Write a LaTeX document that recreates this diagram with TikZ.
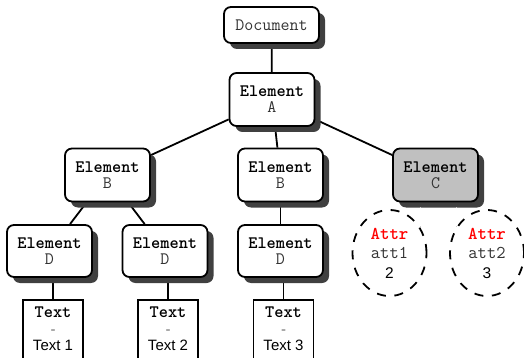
\documentclass[tikz,border=0pt]{standalone}
\usepackage{fontspec}
\setsansfont{Liberation Sans}
\usetikzlibrary{shadows,shapes.geometric,backgrounds}
\definecolor{shadowgray}{HTML}{404040}
\definecolor{cfill}{HTML}{C0C0C0}
\definecolor{labgray}{HTML}{333333}
\definecolor{attrred}{HTML}{FF0000}
\definecolor{dashgray}{HTML}{707070}
\newcommand{\elname}{\textbf{Element}}
\tikzset{
  boxshadow/.style={drop shadow={shadow xshift=6pt, shadow yshift=-6pt, fill=shadowgray, opacity=1}},
  elem/.style={draw=black, line width=1.8pt, rounded corners=7pt, fill=white,
    minimum width=85pt, minimum height=53pt, inner sep=0pt, align=center,
    font=\fontsize{17.5}{16}\selectfont\ttfamily, boxshadow},
  docbox/.style={elem, minimum width=95pt, minimum height=36pt},
  grayelem/.style={elem, fill=cfill},
  txtbox/.style={draw=black, line width=1.8pt, fill=white, anchor=north,
    minimum width=60pt, inner xsep=0pt, inner ysep=7pt, align=center,
    font=\fontsize{15}{16.5}\selectfont\sffamily},
  attrnode/.style={ellipse, draw=black, line width=1.8pt, dash pattern=on 9pt off 8.6pt,
    fill=white, minimum width=74pt, minimum height=86pt, inner sep=0pt, align=center,
    font=\fontsize{15.5}{19.5}\selectfont\sffamily},
  conn/.style={draw=black, line width=1.8pt},
  faint/.style={draw=gray!40, line width=0.4pt, dash pattern=on 1pt off 18pt},
}
\newcommand{\lab}[1]{{\color{labgray}#1}}
\newcommand{\txtcontent}[1]{{\fontsize{17.5}{16.5}\selectfont\ttfamily\bfseries Text}\\{\color{dashgray}-}\\#1\\[12pt]\mbox{}}
\newcommand{\attrcontent}[2]{{\fontsize{18}{19.5}\selectfont\ttfamily\bfseries\color{attrred}Attr}\\{\fontsize{18}{19.5}\selectfont\ttfamily\color{labgray}#1}\\#2}
\begin{document}
\begin{tikzpicture}[x=1pt,y=-1pt]
\useasboundingbox (0,0) rectangle (524,358);
\node[docbox] (doc) at (271.5,25) {\lab{Document}};
\node[elem] (A) at (272,99.5) {\elname\\\lab{A}};
\node[elem] (B1) at (107.5,175) {\elname\\\lab{B}};
\node[elem] (B2) at (280.5,175) {\elname\\\lab{B}};
\node[grayelem] (C) at (435.5,175) {\elname\\\lab{C}};
\node[elem, minimum height=52pt] (D1) at (49.5,251) {\elname\\\lab{D}};
\node[elem, minimum height=52pt] (D2) at (165,251) {\elname\\\lab{D}};
\node[elem, minimum height=52pt] (D3) at (280.5,251) {\elname\\\lab{D}};
\node[txtbox] (T1) at (53,299) {\txtcontent{Text 1}};
\node[txtbox] (T2) at (168,299) {\txtcontent{Text 2}};
\node[txtbox] (T3) at (283.5,299) {\txtcontent{Text 3}};
\node[attrnode] (a1) at (389.5,253) {\attrcontent{att1}{2}};
\node[attrnode] (a2) at (487,253) {\attrcontent{att2}{3}};
\begin{pgfonlayer}{background}
  \draw[conn] (doc) -- (A);
  \draw[conn] (A) -- (B1);
  \draw[conn] (A) -- (B2);
  \draw[conn] (A) -- (C);
  \draw[conn] (B1) -- (D1);
  \draw[conn] (B1) -- (D2);
  \draw[conn] (B2) -- (D3);
  \draw[conn] (T1.north) -- (T1.north |- D1.center);
  \draw[conn] (T2.north) -- (T2.north |- D2.center);
  \draw[conn] (T3.north) -- (T3.north |- D3.center);
\end{pgfonlayer}
\draw[faint] (a1.41) -- (a1.41 |- C.south);
\draw[faint] (a2.139) -- (a2.139 |- C.south);
\end{tikzpicture}
\end{document}
